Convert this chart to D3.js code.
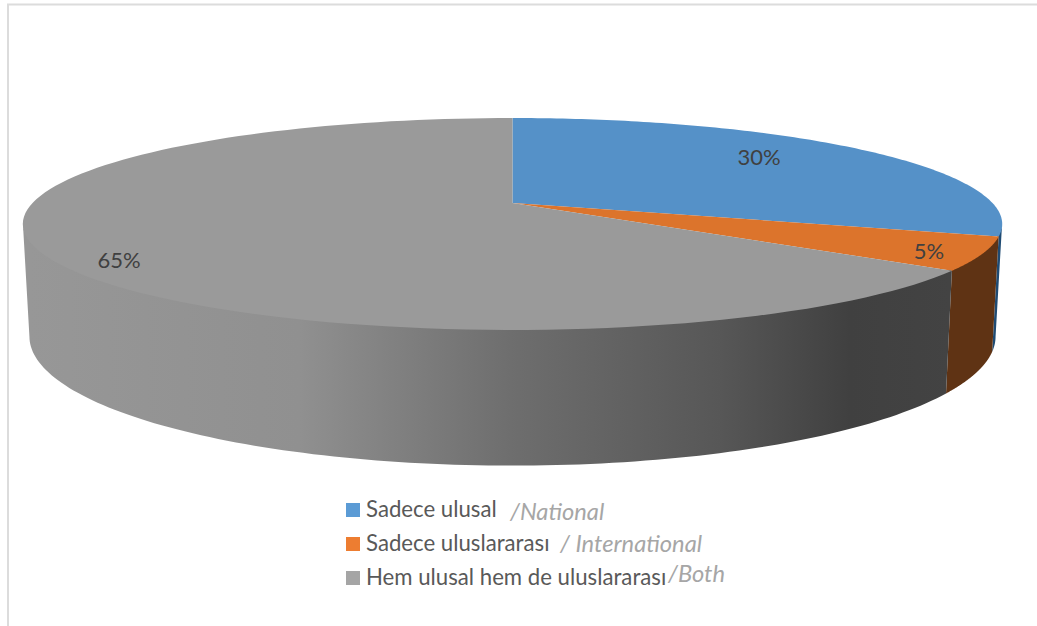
<!DOCTYPE html>
<html>
<head>
<meta charset="utf-8">
<script src="https://cdn.jsdelivr.net/npm/d3@7"></script>
<style>
  html, body { margin: 0; padding: 0; background: #fff; }
  svg { display: block; }
</style>
</head>
<body>
<svg id="chart" width="1037" height="626"></svg>
<script>
const categories = ["Sadece ulusal", "Sadece uluslararası", "Hem ulusal hem de uluslararası"];
const translations = ["/National", "/ International", "/Both"];
const values = [30, 5, 65];
const topColors = ["#5591c8", "#dc742c", "#9a9a9a"];
const sideColors = ["#1f4b73", "#5f3314", "url(#sideGrad)"];
const legendColors = ["#5b9bd5", "#ed7d31", "#a5a5a5"];

const svg = d3.select("#chart");

// frame
svg.append("path").attr("d", "M8,626V4.5H1037").attr("fill", "none").attr("stroke", "#dcdcdc").attr("stroke-width", 2);

// side shading of the big grey slice
const grad = svg.append("defs").append("linearGradient").attr("id", "sideGrad")
  .attr("gradientUnits", "userSpaceOnUse").attr("x1", 30).attr("x2", 950).attr("y1", 0).attr("y2", 0);
[[0, "#979797"], [0.293, "#909090"], [0.522, "#6e6e6e"], [0.75, "#575757"], [0.891, "#404040"], [1, "#434343"]]
  .forEach(s => grad.append("stop").attr("offset", s[0]).attr("stop-color", s[1]));

// pie seen in perspective: angle 0 at the top, clockwise
const topPlane = { cx: 512.5, cy: 203, a: 480, b: 101.8, k: 0.198 };
const bottomPlane = { cx: 512.5, cy: 311, a: 473.5, b: 124, k: 0.198 };
// walls start a little under the top face so no light seam shows along the rim
const wallPlane = { ...topPlane, cy: topPlane.cy - 2 };
const project = (p, t) => {
  const w = 1 + p.k * Math.cos(t);
  return [p.cx + p.a * Math.sin(t) / w, p.cy - p.b * Math.cos(t) / w];
};
const sample = (t0, t1) => d3.range(0, 121).map(i => t0 + (t1 - t0) * i / 120);
const line = d3.line();

const arcs = d3.pie().sort(null)(values);

// side walls: only the part of each slice between the two widest points of the ellipse
const widest = Math.PI - Math.acos(topPlane.k);
arcs.forEach((d, i) => {
  const t0 = Math.max(d.startAngle, widest);
  const t1 = Math.min(d.endAngle, 2 * Math.PI - widest);
  if (t1 <= t0) return;
  const ts = sample(t0, t1);
  const pts = ts.map(t => project(wallPlane, t)).concat(ts.slice().reverse().map(t => project(bottomPlane, t)));
  svg.append("path").attr("d", line(pts) + "Z").attr("fill", sideColors[i]);
});

// top faces
arcs.forEach((d, i) => {
  const pts = [[topPlane.cx, topPlane.cy]].concat(sample(d.startAngle, d.endAngle).map(t => project(topPlane, t)));
  svg.append("path").attr("d", line(pts) + "Z").attr("fill", topColors[i]);
});

// data labels
const labelFont = "Lato, Carlito, sans-serif";
const labelPos = [[759, 165], [929, 259], [119, 268]];
arcs.forEach((d, i) => {
  svg.append("text").attr("x", labelPos[i][0]).attr("y", labelPos[i][1])
    .attr("text-anchor", "middle").attr("font-family", labelFont).attr("font-size", 22)
    .attr("fill", "#404040").text(values[i] + "%");
});

// legend
const legendY = d3.scalePoint().domain(categories).range([510, 578]);
const transX = [510, 560, 668];
const transY = [520, 552, 582];
categories.forEach((c, i) => {
  const y = legendY(c);
  svg.append("rect").attr("x", 346).attr("y", y - 7).attr("width", 14).attr("height", 14).attr("fill", legendColors[i]);
  svg.append("text").attr("x", 366).attr("y", y + 7).attr("font-family", labelFont).attr("font-size", 22.2)
    .attr("fill", "#595959").text(c);
  svg.append("text").attr("x", transX[i]).attr("y", transY[i]).attr("font-family", labelFont).attr("font-style", "italic")
    .attr("font-size", 23.7).attr("fill", "#a6a6a6").text(translations[i]);
});
</script>
</body>
</html>
